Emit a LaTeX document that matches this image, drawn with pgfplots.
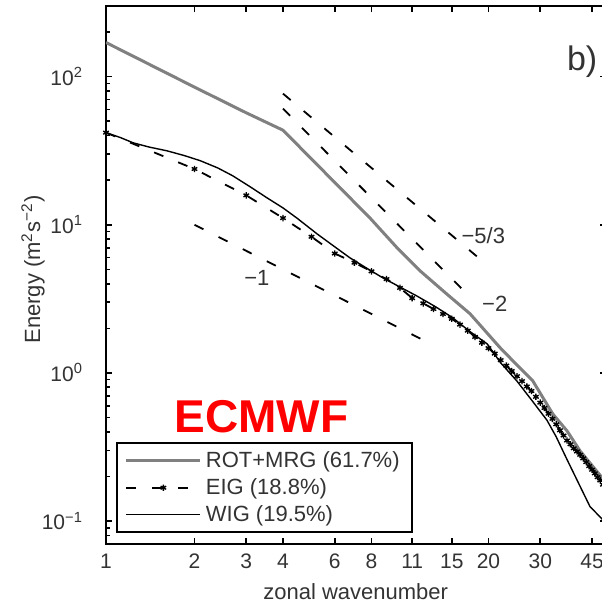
\documentclass[border=0pt]{standalone}
\usepackage{pgfplots}
\pgfplotsset{compat=1.18}
\usepackage{fontspec}
\setmainfont{Liberation Sans}
\usetikzlibrary{calc}
\begin{document}
\begin{tikzpicture}
\begin{axis}[
  xmode=log, ymode=log,
  scale only axis,
  width=249.75pt, height=269pt,
  xmin=1, xmax=50, ymin=0.07, ymax=300,
  xtick={1,2,3,4,6,8,11,15,20,30,45},
  xticklabels={1,2,3,4,6,8,11,15,20,30,45},
  minor xtick={},
  ytick={0.1,1,10,100},
  yticklabels={10\textsuperscript{−1},10\textsuperscript{0},10\textsuperscript{1},10\textsuperscript{2}},
  minor ytick={0.07,0.08,0.09,0.2,0.3,0.4,0.5,0.6,0.7,0.8,0.9,2,3,4,5,6,7,8,9,20,30,40,50,60,70,80,90,200,300},
  tick align=inside,
  major tick length=3pt, minor tick length=1.8pt,
  axis line style={line width=0.9pt},
  every tick/.style={line width=0.8pt, black},
  tick label style={font=\fontsize{10.5}{12}\selectfont, text=black!80},
  xticklabel style={yshift=-1.5pt},
  yticklabel style={xshift=-8pt},
  xlabel={zonal wavenumber},
  ylabel={Energy (m\textsuperscript{2}s\textsuperscript{−2})},
  label style={font=\fontsize{11}{13}\selectfont, text=black!80},
  xlabel style={at={(axis description cs:0.5,-0.089)}, anchor=center},
  ylabel style={at={(axis description cs:-0.146,0.51)}, anchor=center},
  legend style={at={(axis description cs:0.02,0.0204)}, anchor=south west,
    draw=black, line width=0.9pt, font=\fontsize{11}{13}\selectfont, text=black!80,
    inner xsep=4pt, inner ysep=2pt, row sep=0pt,
    /tikz/every even column/.append style={column sep=4pt}},
  legend cell align=left,
  legend image code/.code={\draw[mark repeat=2,mark phase=2,#1] plot coordinates {(0pt,0pt) (18.5pt,0pt) (37pt,0pt)};},
]
\coordinate (o) at (rel axis cs:0,0);
% ROT+MRG
\addplot[gray, line width=1.5pt] coordinates {
(1,170) (2,85) (3,57) (4,43.5) (5.78,20.8) (7.91,11.1) (9.77,7.0) (11.7,4.89)
(14.4,3.42) (17.3,2.51) (21.9,1.48) (23.7,1.26) (28.3,0.883) (33.1,0.528)
(37,0.406) (41,0.297) (48.3,0.2) (50,0.18)};
\addlegendentry{ROT+MRG (61.7\%)}
% EIG
\addplot[black, line width=0.9pt, dash pattern=on 5pt off 8pt, mark=asterisk, mark size=1.6pt,
  mark options={solid, line width=0.7pt}] coordinates {
(1,41.9) (2,23.8) (3,15.8) (4,11.1) (5,8.3) (6,6.4) (7,5.55) (8,4.85) (9,4.3) (10,3.75)
(11,3.2) (12,2.95) (13,2.7) (14,2.5) (15,2.32) (16,2.12) (17,1.93) (18,1.75) (19,1.6) (20,1.47)
(21,1.35) (22,1.22) (23,1.12) (24,1.03) (25,0.95) (26,0.88) (27,0.81) (28,0.755) (29,0.69) (30,0.63)
(31,0.58) (32,0.53) (33,0.49) (34,0.45) (35,0.41) (36,0.378) (37,0.35) (38,0.33) (39,0.31) (40,0.295)
(41,0.28) (42,0.265) (43,0.25) (44,0.235) (45,0.222) (46,0.21) (47,0.198) (48,0.188) (49,0.176) (50,0.165)};
\addlegendentry{EIG (18.8\%)}
% WIG
\addplot[black, line width=0.7pt] coordinates {
(1,41.9) (1.12,38.8) (1.235,35.8) (1.4,33.5) (1.61,31.6) (1.85,29.3) (2.09,27.1) (2.4,24.2) (2.70,21.4)
(3.1,18.0) (3.53,15.2) (4,13.0) (4.46,11.1)
(5.22,8.69) (6,7.1) (6.76,5.98) (7.7,5.1) (8.75,4.38) (10,3.8) (11.4,3.31) (13.2,2.8) (15.1,2.36) (17.3,1.9) (19.8,1.57) (22,1.17)
(25,0.88) (28.3,0.64) (31.6,0.48) (34,0.37) (37,0.26) (40.5,0.18) (44.3,0.125) (48.3,0.105) (50,0.097)};
\addlegendentry{WIG (19.5\%)}
% reference slopes
\addplot[black, line width=0.9pt, dash pattern=on 5pt off 8.5pt, forget plot] coordinates {(2,10) (12.8,1.5625)};
\addplot[black, line width=0.9pt, dash pattern=on 5pt off 8.5pt, forget plot] coordinates {(4,76.8) (18.7,5.88)};
\addplot[black, line width=0.9pt, dash pattern=on 5pt off 8.5pt, forget plot] coordinates {(4,60.8) (17.5,3.18)};
\node[font=\fontsize{11}{13}\selectfont, text=black!80] at (axis cs:19.2,8.44) {−5/3};
\node[font=\fontsize{11}{13}\selectfont, text=black!80] at (axis cs:21.0,2.92) {−2};
\node[font=\fontsize{11}{13}\selectfont, text=black!80] at (axis cs:3.26,4.38) {−1};
\node[font=\fontsize{23}{27}\selectfont\bfseries, text=red, anchor=base] at (axis cs:3.38,0.394) {ECMWF};
\node[font=\fontsize{17}{20}\selectfont, text=black!80, anchor=base west] at (axis cs:35,110) {b)};
\end{axis}
\pgfresetboundingbox
\path[use as bounding box] ($(o)+(-53pt,-31pt)$) rectangle ($(o)+(247.5pt,272pt)$);
\end{tikzpicture}
\end{document}
